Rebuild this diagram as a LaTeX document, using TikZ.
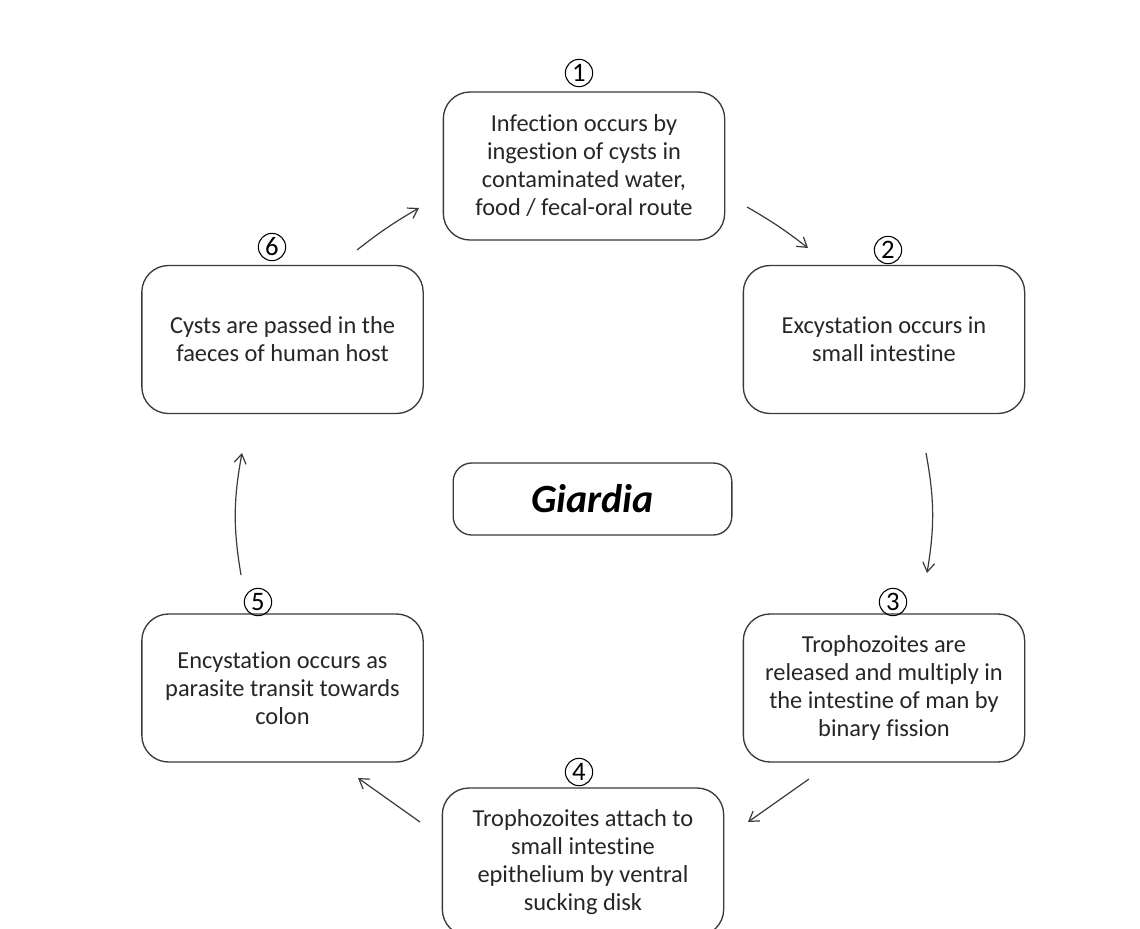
\documentclass[tikz,border=0pt]{standalone}
\usepackage{fontspec}
\setmainfont{Carlito}[Ligatures=NoCommon]
\usetikzlibrary{arrows.meta}
\definecolor{txtgray}{HTML}{262626}
\definecolor{linegray}{HTML}{3A3A3A}

\begin{document}
\begin{tikzpicture}[x=0.75pt,y=-0.75pt,
    stage/.style={draw=linegray,line width=1pt,rounded corners=20pt,
      minimum width=211pt,minimum height=111pt,align=center,text=txtgray,
      font=\fontsize{18.3}{21}\selectfont},
    num/.style={circle,draw=black,line width=0.8pt,inner sep=0pt,
      minimum size=20.5pt,font=\fontsize{20}{20}\selectfont},
    cyc/.style={draw=linegray,line width=0.9pt,-{Straight Barb[length=7pt,width=9pt]}}]

  \fill[white] (0,0) rectangle (1140,929);
  \clip (0,0) rectangle (1140,929);

  % stages of the cycle
  \node[stage] (inf) at (584,166) {Infection occurs by\\ingestion of cysts in\\contaminated water,\\food / fecal-oral route};
  \node[stage] (exc) at (884,339.5) {Excystation occurs in\\small intestine};
  \node[stage] (tro) at (884,688) {Trophozoites are\\released and multiply in\\the intestine of man by\\binary fission};
  \node[stage] (att) at (583,862) {Trophozoites attach to\\small intestine\\epithelium by ventral\\sucking disk};
  \node[stage] (enc) at (282.5,688) {Encystation occurs as\\parasite transit towards\\colon};
  \node[stage] (pas) at (282.5,339.5) {Cysts are passed in the\\faeces of human host};

  \node[stage,minimum width=209pt,minimum height=54pt,rounded corners=14pt,text=black,
    font=\fontsize{30}{30}\selectfont\bfseries\itshape] (gia) at (592.5,499) {Giardia};

  % step numbers
  \node[num] (n1) at (579,73) {1};
  \node[num] (n2) at (888,250) {2};
  \node[num] (n3) at (893,602) {3};
  \node[num] (n4) at (579,772) {4};
  \node[num] (n5) at (258,602) {5};
  \node[num] (n6) at (272,247) {6};

  % arrows
  \coordinate (a1s) at (357,250);  \coordinate (a1e) at (419,208);
  \coordinate (a2s) at (747,207);  \coordinate (a2e) at (808,248);
  \coordinate (a3s) at (926,453);  \coordinate (a3e) at (927,573);
  \coordinate (a4s) at (809,779);  \coordinate (a4e) at (748,822);
  \coordinate (a5s) at (420,822);  \coordinate (a5e) at (358,778);
  \coordinate (a6s) at (241,575);  \coordinate (a6e) at (242,453);

  \draw[cyc] (a1s) to[bend left=4] (a1e);
  \draw[cyc] (a2s) to[bend left=4] (a2e);
  \draw[cyc] (a3s) to[bend left=10] (a3e);
  \draw[cyc] (a4s) -- (a4e);
  \draw[cyc] (a5s) -- (a5e);
  \draw[cyc] (a6s) to[bend left=10] (a6e);

\end{tikzpicture}
\end{document}
